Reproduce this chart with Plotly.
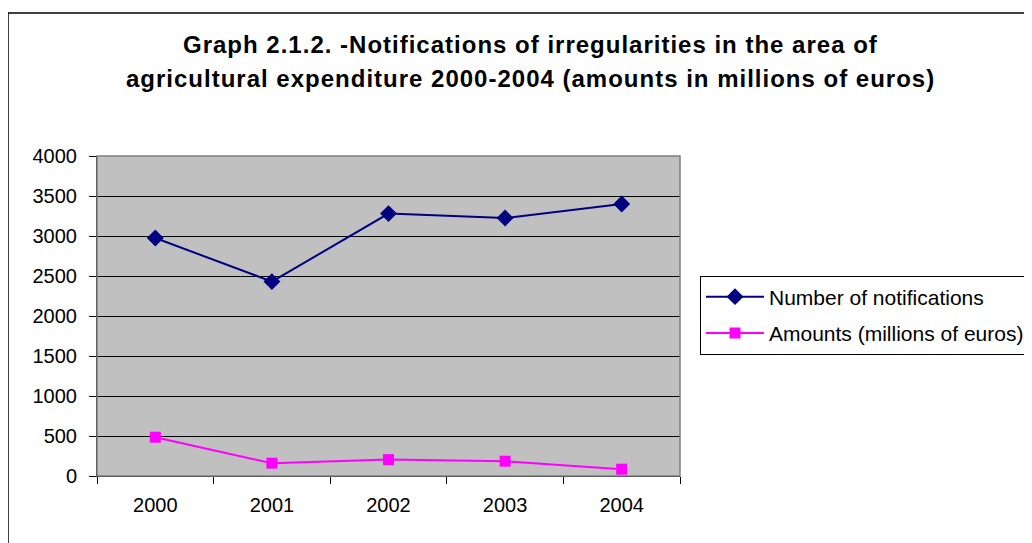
import plotly.graph_objects as go

years = ["2000", "2001", "2002", "2003", "2004"]
notifications = [2975, 2430, 3280, 3225, 3400]
amounts = [485, 160, 205, 185, 85]
y_ticks = [0, 500, 1000, 1500, 2000, 2500, 3000, 3500, 4000]

# the page body adds an 8px margin, so the figure is drawn 8px in from the window edge
OFF = 8
W, H = 1032 - OFF, 543 - OFF
# plot area in window pixels
L, R, T, B = 97, 680, 156, 476

def px(x):
    return (x - L) / (R - L)

def py(y):
    return (B - y) / (B - T)

fig = go.Figure()
fig.add_trace(go.Scatter(
    x=years, y=notifications, name="Number of notifications",
    mode="lines+markers", legendgroup="a",
    line=dict(color="#000080", width=2),
    marker=dict(symbol="diamond", size=13, color="#000080"),
))
fig.add_trace(go.Scatter(
    x=years, y=amounts, name="Amounts (millions of euros)",
    mode="lines+markers", legendgroup="b",
    line=dict(color="#FF00FF", width=2),
    marker=dict(symbol="square", size=11, color="#FF00FF"),
))

font = "Liberation Sans, Arial, sans-serif"

fig.update_layout(
    width=W, height=H,
    margin=dict(l=L - OFF, r=W - (R - OFF), t=T - OFF, b=H - (B - OFF), autoexpand=False),
    paper_bgcolor="white",
    plot_bgcolor="#C0C0C0",
    font=dict(family=font, size=20, color="black"),
    showlegend=True,
    legend=dict(
        x=px(700), y=py(315), xanchor="left", yanchor="middle",
        bgcolor="white", bordercolor="black", borderwidth=1,
        font=dict(size=21), traceorder="grouped", tracegroupgap=6,
        itemwidth=58,
    ),
    xaxis=dict(
        type="category", range=[-0.5, 4.5],
        showgrid=False, showline=True, linecolor="black", linewidth=1,
        ticks="outside", tickson="boundaries", ticklen=7, tickcolor="black",
        tickfont=dict(size=20), ticklabelstandoff=11,
    ),
    yaxis=dict(
        range=[0, 4000], tickvals=y_ticks,
        showgrid=True, gridcolor="black", gridwidth=1,
        showline=True, linecolor="black", linewidth=1,
        ticks="outside", ticklen=7, tickcolor="black",
        tickfont=dict(size=20), zeroline=False, ticklabelstandoff=8,
    ),
)

# plot area border (grey top/right)
fig.add_shape(type="rect", xref="paper", yref="paper", x0=0, y0=0, x1=1, y1=1,
              line=dict(color="#808080", width=1.5), layer="above")
# outer chart border
fig.add_shape(type="rect", xref="paper", yref="paper",
              x0=px(8), y0=py(570), x1=px(1060), y1=py(13),
              line=dict(color="black", width=1.5))

title1 = "Graph 2.1.2. -Notifications of irregularities in the area of"
title2 = "agricultural expenditure 2000-2004 (amounts in millions of euros)"
for txt, yy in [(title1, 45), (title2, 78)]:
    fig.add_annotation(xref="paper", yref="paper", x=px(530), y=py(yy),
                       xanchor="center", yanchor="middle",
                       text='<span style="letter-spacing:1px"><b>' + txt + "</b></span>",
                       showarrow=False, font=dict(size=24, family=font))

fig.write_html("out.html")
